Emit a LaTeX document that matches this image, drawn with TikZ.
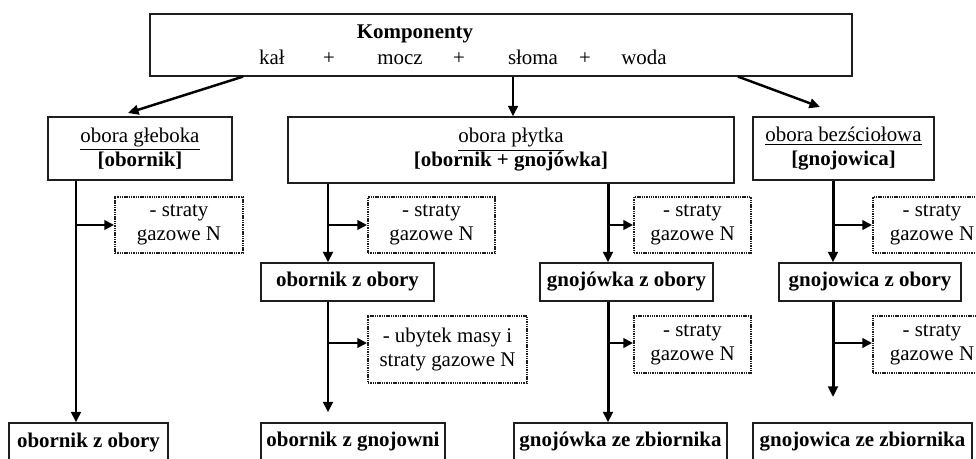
\documentclass[tikz,border=0pt]{standalone}
\usepackage{fontspec}
\setmainfont{Liberation Serif}
\usetikzlibrary{arrows.meta}

\newcommand{\px}[1]{#1*0.02cm}

\begin{document}
\begin{tikzpicture}[x=0.02cm, y=-0.02cm,
  font=\fontsize{11.9pt}{13.6pt}\selectfont,
  box/.style={draw=framecol, line width=0.7pt, inner sep=0pt, align=center},
  lossbox/.style={draw=framecol, line width=1.2pt, dash pattern=on 0.8pt off 0.5pt, inner sep=0pt, align=center},
  flow/.style={line width=1.7pt, -{Triangle[length=6pt, width=5.5pt]}},
  side/.style={line width=1.2pt, -{Triangle[length=5.5pt, width=5.5pt]}},
  feed/.style={line width=1.4pt, -{Triangle[length=6pt, width=5.5pt]}}]

\definecolor{framecol}{RGB}{30,30,30}

\useasboundingbox (0,0) rectangle (976,459);
\clip (0,0) rectangle (976,459);

% =========== TOP: components ===========
\node[box, minimum width={\px{702}}, minimum height={\px{62}}] (komp) at (501,45) {};
\node[anchor=base] (kompt) at (415,39) {\textbf{Komponenty}};
\node[anchor=base] (kal)   at (272,65) {kał};
\node[anchor=base] (plusa) at (329,65) {+};
\node[anchor=base] (mocz)  at (400,65) {mocz};
\node[anchor=base] (plusb) at (459,65) {+};
\node[anchor=base] (sloma) at (533,65) {słoma};
\node[anchor=base] (plusc) at (585,65) {+};
\node[anchor=base] (woda)  at (644,65) {woda};

% =========== barn types ===========
\node[box, minimum width={\px{184}}, minimum height={\px{63}}] (gleb) at (140,148.5)
  {\underline{obora głeboka}\\\textbf{[obornik]}};
\node[box, minimum width={\px{446}}, minimum height={\px{66}}] (plyt) at (511,150)
  {\underline{obora płytka}\\\textbf{[obornik + gnojówka]}};
\node[box, minimum width={\px{181}}, minimum height={\px{63}}] (bezs) at (843.5,148.5)
  {\underline{obora bezściołowa}\\\textbf{[gnojowica]}};

% =========== losses ===========
\node[lossbox, minimum width={\px{128}}, minimum height={\px{56}}] (s1) at (179,225) {- straty\\gazowe N};
\node[lossbox, minimum width={\px{127}}, minimum height={\px{56}}] (s2) at (431.5,225) {- straty\\gazowe N};
\node[lossbox, minimum width={\px{117}}, minimum height={\px{56}}] (s3) at (692.5,225) {- straty\\gazowe N};
\node[lossbox, minimum width={\px{118}}, minimum height={\px{56}}] (s4) at (932,225) {- straty\\gazowe N};
\node[lossbox, minimum width={\px{159}}, minimum height={\px{67}}] (s5) at (447.5,349.5) {- ubytek masy i\\straty gazowe N};
\node[lossbox, minimum width={\px{117}}, minimum height={\px{57}}] (s6) at (692.5,344.5) {- straty\\gazowe N};
\node[lossbox, minimum width={\px{118}}, minimum height={\px{57}}] (s7) at (932,344.5) {- straty\\gazowe N};

% =========== from the barn ===========
\node[box, minimum width={\px{173}}, minimum height={\px{38}}] (ob1)  at (347.5,282) {\textbf{obornik z obory}};
\node[box, minimum width={\px{173}}, minimum height={\px{38}}] (gnl1) at (626.5,282) {\textbf{gnojówka z obory}};
\node[box, minimum width={\px{182}}, minimum height={\px{38}}] (gnc1) at (870,282) {\textbf{gnojowica z obory}};

% =========== bottom row ===========
\node[box, minimum width={\px{159}}, minimum height={\px{38}}] (b1) at (88.5,442) {\textbf{obornik z obory}};
\node[box, minimum width={\px{184}}, minimum height={\px{38}}] (b2) at (353,442) {\textbf{obornik z gnojowni}};
\node[box, minimum width={\px{213}}, minimum height={\px{38}}] (b3) at (620.5,442) {\textbf{gnojówka ze zbiornika}};
\node[box, minimum width={\px{219}}, minimum height={\px{38}}] (b4) at (862.5,442) {\textbf{gnojowica ze zbiornika}};

% ---------------- columns and rows ----------------
\coordinate (c1) at (76,0);
\coordinate (c2) at (328,0);
\coordinate (c3) at (608,0);
\coordinate (c4) at (833,0);
\coordinate (r2) at (0,343);
\coordinate (t1) at (243,0);
\coordinate (t2) at (513,0);
\coordinate (t3) at (738,0);
\coordinate (glebin) at (128,113);
\coordinate (bezsin) at (820,107);
\coordinate (gncend) at (833,397);

% ---------------- connectors ----------------
\draw[feed] (komp.south -| t1) -- (glebin);
\draw[feed] (komp.south -| t2) -- (plyt.north -| t2);
\draw[feed] (komp.south -| t3) -- (bezsin);

\draw[flow] (gleb.south -| c1) -- (b1.north -| c1);
\draw[side] (c1 |- s1.west) -- (s1.west);

\draw[flow] (plyt.south -| c2) -- (ob1.north -| c2);
\draw[side] (c2 |- s2.west) -- (s2.west);
\draw[flow, shorten >=\px{10}] (ob1.south -| c2) -- (b2.north -| c2);
\draw[side] (c2 |- r2) -- (s5.west |- r2);

\draw[flow] (plyt.south -| c3) -- (gnl1.north -| c3);
\draw[side] (c3 |- s3.west) -- (s3.west);
\draw[flow] (gnl1.south -| c3) -- (b3.north -| c3);
\draw[side] (c3 |- r2) -- (s6.west |- r2);

\draw[flow] (bezs.south -| c4) -- (gnc1.north -| c4);
\draw[side] (c4 |- s4.west) -- (s4.west);
\draw[flow] (gnc1.south -| c4) -- (gncend);
\draw[side] (c4 |- r2) -- (s7.west |- r2);

\end{tikzpicture}
\end{document}
